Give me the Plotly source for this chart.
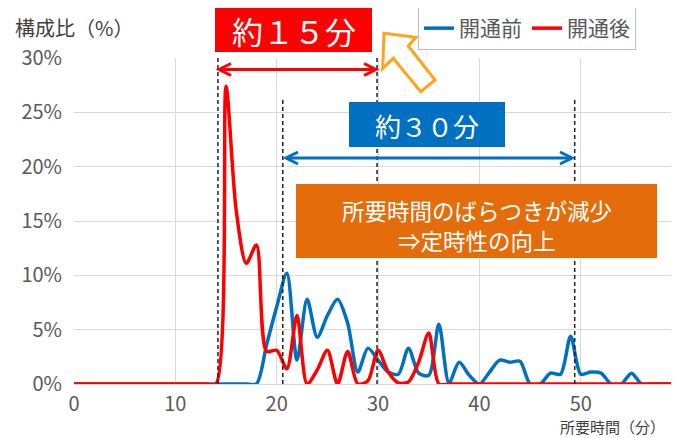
import plotly.graph_objects as go

minutes = list(range(0, 60))
before_pct = [0]*18 + [0, 3.6, 7.1, 10.2, 2.2, 7.8, 4.3, 6.3, 7.8, 5.6, 1.1, 3.3, 2.2, 1.1, 0.9, 3.3, 1.0, 0.8,
                       5.5, 0.1, 2.0, 0.8, 0, 1.1, 2.2, 2.0, 2.1, 0, 0, 1.0, 0.9, 4.4, 0.9, 1.1, 1.0, 0, 0, 1.0, 0, 0, 0, 0]
after_pct = [0]*15 + [27.4, 16.0, 11.1, 12.8, 3.0, 3.1, 1.4, 6.3, 0, 1.3, 3.1, 0, 3.0, 0, 0.3, 3.1, 1.1, 0.1, 0.2,
                      2.0, 4.7, 0] + [0]*23
series_names = ["開通前", "開通後"]
x_ticks = [0, 10, 20, 30, 40, 50]
y_ticks = [0, 5, 10, 15, 20, 25, 30]
y_tick_labels = ["0%", "5%", "10%", "15%", "20%", "25%", "30%"]

# the page body adds an 8px offset; work in window pixels and compensate
OFF = 8
W, H = 679 - OFF, 438 - OFF
PL, PR, PT, PB = 74, 672, 58, 384          # plot area in window pixels
L, R, T, B = PL - OFF, (679 - PR), PT - OFF, (438 - PB)
PW, PH = PR - PL, PB - PT
FONT = "Noto Sans CJK JP"


def px(x):
    return (x - PL) / PW


def py(y):
    return (PB - y) / PH


fig = go.Figure()
fig.add_trace(go.Scatter(x=minutes, y=before_pct, name=series_names[0], mode="lines",
                         line=dict(color="#0070C0", width=3.5, shape="spline", smoothing=0.8)))
fig.add_trace(go.Scatter(x=minutes, y=after_pct, name=series_names[1], mode="lines",
                         line=dict(color="#FF0000", width=3.5, shape="spline", smoothing=0.8)))

shapes = []
# dashed reference lines
for xv, top in [(14.2, 30), (29.9, 30), (20.6, 26.4), (49.4, 26.4)]:
    shapes.append(dict(type="line", xref="x", yref="y", x0=xv, x1=xv, y0=0, y1=top,
                       line=dict(color="#222222", width=1.5, dash="4px,3px")))


def dbl_arrow(x0, x1, y, color):
    s = [dict(type="line", xref="paper", yref="paper", x0=px(x0 + 1), x1=px(x1 - 1), y0=py(y), y1=py(y),
              line=dict(color=color, width=3))]
    s.append(dict(type="path", xref="paper", yref="paper",
                  path=f"M {px(x0+13)} {py(y-6)} L {px(x0+1)} {py(y)} L {px(x0+13)} {py(y+6)}",
                  line=dict(color=color, width=3)))
    s.append(dict(type="path", xref="paper", yref="paper",
                  path=f"M {px(x1-13)} {py(y-6)} L {px(x1-1)} {py(y)} L {px(x1-13)} {py(y+6)}",
                  line=dict(color=color, width=3)))
    return s


shapes += dbl_arrow(218, 377, 69.5, "#FF0000")
shapes += dbl_arrow(285, 573, 158, "#0070C0")


def rect(x0, y0, x1, y1, color):
    return dict(type="rect", xref="paper", yref="paper", x0=px(x0), x1=px(x1), y0=py(y1), y1=py(y0),
                fillcolor=color, line=dict(width=0), layer="above")


shapes.append(rect(215, 7, 372, 52, "#FF0000"))
shapes.append(rect(349, 102, 505, 147, "#0070C0"))
shapes.append(rect(296, 184, 657, 258, "#E46C0A"))

arrow_pts = [(384, 33.3), (416, 37.3), (408.3, 46), (435, 80), (420.7, 91.7), (393.3, 58.3), (382.7, 68.3)]
path = "M " + " L ".join(f"{px(a)} {py(b)}" for a, b in arrow_pts) + " Z"
shapes.append(dict(type="path", xref="paper", yref="paper", path=path, fillcolor="white",
                   line=dict(color="#FFA31A", width=3), layer="above"))


def ann(text, x, y, size, color, xanchor="center", yanchor="middle"):
    return dict(text=text, x=px(x), y=py(y), xref="paper", yref="paper", showarrow=False,
                xanchor=xanchor, yanchor=yanchor, borderpad=0,
                font=dict(family=FONT, size=size, color=color))


annotations = [
    ann("約１５分", 293.5, 30, 31, "white"),
    ann("約３０分", 427, 125, 26, "white"),
    ann("所要時間のばらつきが減少", 477, 209.5, 22.5, "white"),
    ann("⇒定時性の向上", 477, 239.5, 22.5, "white"),
    ann("構成比（%）", 14, 27, 20, "#404040", xanchor="left"),
    ann("所要時間（分）", 666, 426.5, 15, "#404040", xanchor="right"),
]

fig.update_layout(
    width=W, height=H, margin=dict(l=L, r=R, t=T, b=B, autoexpand=False),
    paper_bgcolor="white", plot_bgcolor="white",
    font=dict(family=FONT, color="#595959"),
    shapes=shapes, annotations=annotations,
    legend=dict(orientation="h", x=px(418), y=py(7), xanchor="left", yanchor="top",
                bordercolor="#BFBFBF", borderwidth=1, bgcolor="white",
                font=dict(family=FONT, size=21, color="#595959"), itemwidth=30),
    xaxis=dict(range=[0, 59], tickvals=x_ticks, showgrid=True, gridcolor="#D9D9D9", gridwidth=1,
               zeroline=False, showline=True, linecolor="#D9D9D9", linewidth=1,
               tickfont=dict(size=20, color="#595959"), ticklabelstandoff=2),
    yaxis=dict(range=[0, 30], tickvals=y_ticks, ticktext=y_tick_labels, showgrid=True, gridcolor="#D9D9D9",
               gridwidth=1, zeroline=False, showline=False,
               tickfont=dict(size=20, color="#595959"), ticklabelstandoff=11),
)

fig.write_html("out.html")
